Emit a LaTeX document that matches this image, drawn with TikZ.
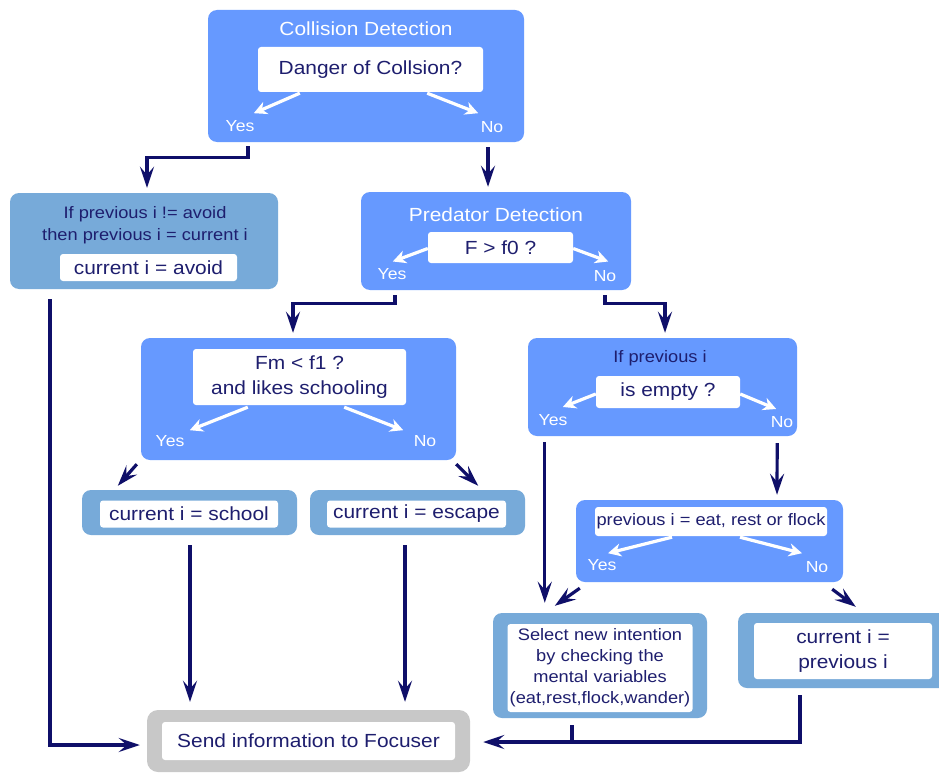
\documentclass[tikz,border=0pt]{standalone}
\usepackage{fontspec}
\setmainfont{Liberation Sans}[FakeStretch=1.1]
\usetikzlibrary{calc,arrows.meta}

\definecolor{cDecision}{RGB}{102,153,255}
\definecolor{cAction}{RGB}{119,170,217}
\definecolor{cGrey}{RGB}{200,200,200}
\definecolor{cInk}{RGB}{30,30,110}
\definecolor{cWire}{RGB}{15,15,105}

\tikzset{
  qbox/.style={rectangle, fill=cDecision, rounded corners=9pt, inner sep=0pt},
  abox/.style={rectangle, fill=cAction, rounded corners=9pt, inner sep=0pt},
  gbox/.style={rectangle, fill=cGrey, rounded corners=11pt, inner sep=0pt},
  wbox/.style={rectangle, fill=white, rounded corners=3pt, inner sep=0pt},
  ttl/.style={text=white, inner sep=0pt, font=\fontsize{19}{22}\selectfont},
  big/.style={text=cInk, align=center, font=\fontsize{19}{25}\selectfont},
  small/.style={text=cInk, align=center, font=\fontsize{16.6}{22}\selectfont},
  yn/.style={text=white, inner sep=0pt, font=\fontsize{16}{18}\selectfont},
  conn/.style={draw=cWire, line width=3.2pt,
    -{Stealth[length=21pt,width=14pt,inset=8pt]}},
  wire/.style={draw=cWire, line width=3.2pt},
  warr/.style={draw=white, line width=3.2pt,
    -{Stealth[length=13pt,width=13pt,inset=4pt]}},
}

\begin{document}
\begin{tikzpicture}[x=1pt,y=-1pt]
\useasboundingbox (0,0) rectangle (939,773);
\fill[white] (0,0) rectangle (939,773);

% Collision detection
\node[qbox, minimum width=316pt, minimum height=132pt] (coll) at (366,76) {};
\node[ttl] (ctitle) at (366,29) {Collision Detection};
\node[wbox, big, minimum width=225pt, minimum height=45pt] (collq) at (370.5,69.5) {Danger of Collsion?};
\node[yn] (cyes) at (240,126) {Yes};
\node[yn] (cno) at (492,127) {No};
\draw[warr] ($(collq.south west)+(42,1)$) -- ($(collq.south west)+(-4,21)$);
\draw[warr] ($(collq.south east)+(-56,1)$) -- ($(collq.south east)+(-5,21)$);

% Avoid
\node[abox, minimum width=268pt, minimum height=96pt] (avoid) at (144,241) {};
\node[small, inner sep=0pt] (avtext) at (145,225) {If previous i != avoid\\then previous i = current i};
\node[wbox, big, minimum width=177pt, minimum height=27pt] (avq) at (148.5,267.5) {current i = avoid};

% Predator detection
\node[qbox, minimum width=270pt, minimum height=98pt] (pred) at (496,241) {};
\node[ttl] (ptitle) at (496,215) {Predator Detection};
\node[wbox, big, minimum width=145pt, minimum height=31pt] (predq) at (500.5,247.5) {F > f0 ?};
\node[yn] (pyes) at (392,274) {Yes};
\node[yn] (pno) at (605,276) {No};
\draw[warr] ($(predq.west)+(0,1)$) -- ($(predq.west)+(-35,14)$);
\draw[warr] ($(predq.east)+(0,1)$) -- ($(predq.east)+(35,14)$);

% Schooling question
\node[qbox, minimum width=315pt, minimum height=122pt] (fm) at (298.5,399) {};
\node[wbox, big, minimum width=213pt, minimum height=56pt] (fmq) at (299.5,377) {Fm < f1 ?\\and likes schooling};
\node[yn] (fyes) at (170,441) {Yes};
\node[yn] (fno) at (425,441) {No};
\draw[warr] ($(fmq.south west)+(55,2)$) -- ($(fmq.south west)+(-3,25)$);
\draw[warr] ($(fmq.south east)+(-62,2)$) -- ($(fmq.south east)+(-3,25)$);

% Empty previous intention question
\node[qbox, minimum width=269pt, minimum height=98pt] (ifprev) at (662.5,387) {};
\node[small, inner sep=0pt] (iptext) at (660,358) {If previous i};
\node[wbox, big, minimum width=144pt, minimum height=32pt] (ipq) at (668,392) {is empty ?};
\node[yn] (iyes) at (553,420) {Yes};
\node[yn] (ino) at (782,422) {No};
\draw[warr] ($(ipq.west)+(0,2)$) -- ($(ipq.west)+(-33,15)$);
\draw[warr] ($(ipq.east)+(0,2)$) -- ($(ipq.east)+(36,17)$);

% School / escape
\node[abox, minimum width=215pt, minimum height=45pt] (school) at (189.5,512.5) {};
\node[wbox, big, minimum width=178pt, minimum height=27pt] (schq) at (189,514) {current i = school};
\node[abox, minimum width=215pt, minimum height=45pt] (escape) at (417.5,512.5) {};
\node[wbox, big, minimum width=179pt, minimum height=27pt] (escq) at (416.5,514) {current i = escape};

% Eat, rest or flock question
\node[qbox, minimum width=267pt, minimum height=82pt] (eatq) at (709.5,541) {};
\node[wbox, small, minimum width=232pt, minimum height=29pt] (eatw) at (711,521.5) {previous i = eat, rest or flock};
\node[yn] (eyes) at (602,565) {Yes};
\node[yn] (eno) at (817,567) {No};
\draw[warr] ($(eatw.south)+(-39,1)$) -- ($(eatw.south)+(-103,17)$);
\draw[warr] ($(eatw.south)+(29,1)$) -- ($(eatw.south)+(91,17)$);

% Select new intention
\node[abox, minimum width=214pt, minimum height=105pt] (select) at (600,665.5) {};
\node[wbox, small, text width=185pt, minimum height=88pt, font=\fontsize{16.6}{21}\selectfont] (selw) at (600,668)
  {Select new intention\\by checking the\\mental variables\\(eat,rest,flock,wander)};

% Keep previous intention (runs past the right edge)
\node[abox, minimum width=212pt, minimum height=75pt] (cur) at (844,650.5) {};
\node[wbox, big, minimum width=178pt, minimum height=56pt] (curw) at (843,651) {current i =\\previous i};

% Output
\node[gbox, minimum width=323pt, minimum height=62pt] (send) at (308.5,741) {};
\node[wbox, big, minimum width=293pt, minimum height=38pt] (sendw) at (308.5,741) {Send information to Focuser};

% Connectors
\draw[conn] ($(coll.south)+(-118,4)$) -- ++(0,11) -| ($(avoid.north)+(3,-5)$);
\draw[conn] ($(coll.south)+(122,5)$) -- ($(pred.north)+(-8,-5)$);
\draw[conn] ($(pred.south)+(-101,5)$) -- ++(0,8) -| ($(fm.north)+(-5.5,-5)$);
\draw[conn] ($(pred.south)+(109,5)$) -- ++(0,8) -| ($(ifprev.north)+(2.5,-5)$);
\draw[conn] ($(avoid.south)+(-94,10)$) |- ($(send.west)+(-7,4)$);
\draw[conn] ($(fm.south west)+(-4,4)$) -- ($(school.north west)+(36,-4)$);
\draw[conn] ($(fm.south east)+(0,4)$) -- ($(escape.north east)+(-47,-4)$);
\draw[conn] ($(school.south)+(0.5,10)$) -- ($(send.north)+(-118.5,-8)$);
\draw[conn] ($(escape.south)+(-12.5,10)$) -- ($(send.north)+(96.5,-8)$);
\draw[conn] ($(ifprev.south west)+(17,6)$) -- ($(select.north west)+(52,-10)$);
\draw[conn] ($(ifprev.south east)+(-20,7)$) -- ($(eatq.north)+(67.5,-5)$);
\draw[conn] ($(eatq.south west)+(4,6)$) -- ($(select.north west)+(62,-7)$);
\draw[conn] ($(eatq.south east)+(-11,7)$) -- ($(cur.north west)+(118,-6)$);
\draw[conn] ($(cur.south)+(-44,7)$) |- ($(send.east)+(13,1)$);
\draw[wire] ($(select.south)+(-28,7)$) -- ++(0,17);
\end{tikzpicture}
\end{document}
